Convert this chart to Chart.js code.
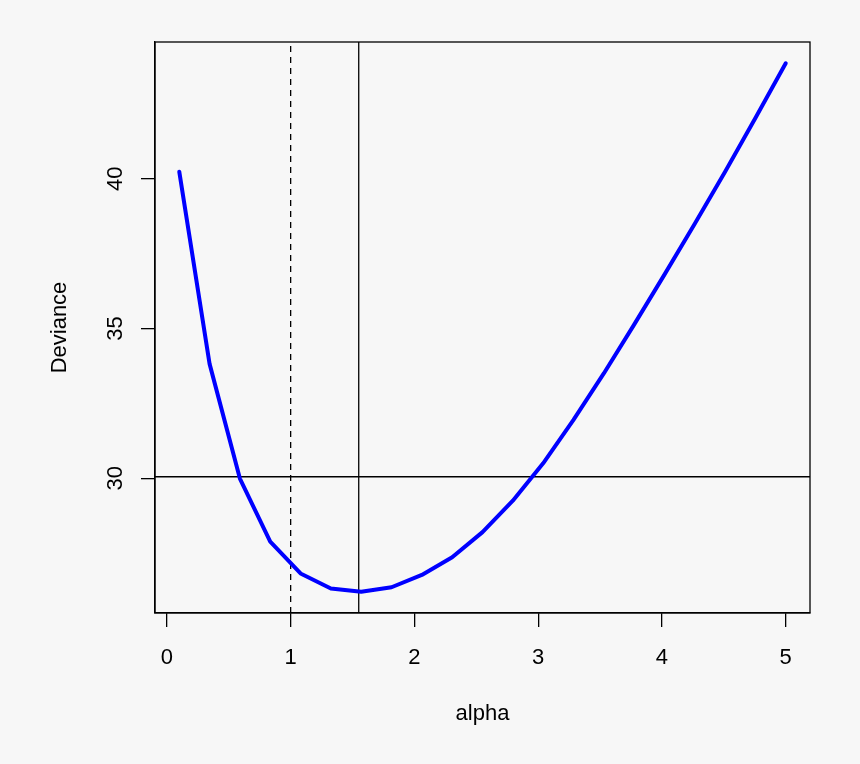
<!DOCTYPE html>
<html lang="en">
<head>
<meta charset="UTF-8">
<title>Deviance vs alpha</title>
<script src="https://cdn.jsdelivr.net/npm/chart.js"></script>
<style>
  html, body { margin: 0; padding: 0; background: #f7f7f7; }
  #wrap { width: 860px; height: 764px; }
</style>
</head>
<body>
<div id="wrap">
  <canvas id="devChart" width="860" height="764"></canvas>
</div>

<script>
// Data
const alpha = [0.1, 0.345, 0.59, 0.835, 1.08, 1.325, 1.57, 1.815, 2.06, 2.305, 2.55,
               2.795, 3.04, 3.285, 3.53, 3.775, 4.02, 4.265, 4.51, 4.755, 5.0];
const deviance = [40.24, 33.82, 29.99, 27.88, 26.82, 26.32, 26.21, 26.36, 26.77, 27.36, 28.2,
                  29.25, 30.5, 31.95, 33.5, 35.13, 36.8, 38.5, 40.24, 42.03, 43.86];

// reference lines (abline)
const hLines = [30.05];
const vSolid = [1.55];
const vDashed = [1];

// axis ticks
const xTicks = [0, 1, 2, 3, 4, 5];
const yTicks = [30, 35, 40];

// R style 4% axis expansion
const xMin = -0.096, xMax = 5.196;
const yMin = 25.50, yMax = 44.57;

const FONT = '"Liberation Sans", Arial, Helvetica, sans-serif';
const FSIZE = 22;

const curve = alpha.map((a, i) => ({ x: a, y: deviance[i] }));

const refSets = [];
hLines.forEach(h => refSets.push({
  data: [{ x: xMin, y: h }, { x: xMax, y: h }],
  borderColor: '#000', borderWidth: 1.3, pointRadius: 0
}));
vSolid.forEach(v => refSets.push({
  data: [{ x: v, y: yMin }, { x: v, y: yMax }],
  borderColor: '#000', borderWidth: 1.3, pointRadius: 0
}));
vDashed.forEach(v => refSets.push({
  data: [{ x: v, y: yMin }, { x: v, y: yMax }],
  borderColor: '#000', borderWidth: 1.3, borderDash: [6, 5], pointRadius: 0
}));

// background, box and rotated y tick labels like base R
const rStyle = {
  id: 'rStyle',
  beforeDraw(chart) {
    const c = chart.ctx;
    c.save();
    c.fillStyle = '#f7f7f7';
    c.fillRect(0, 0, chart.width, chart.height);
    c.restore();
  },
  afterDraw(chart) {
    const c = chart.ctx;
    const a = chart.chartArea;
    const ys = chart.scales.y;
    c.save();
    c.strokeStyle = '#000';
    c.lineWidth = 1.3;
    c.strokeRect(a.left, a.top, a.right - a.left, a.bottom - a.top);
    c.fillStyle = '#000';
    c.font = FSIZE + 'px ' + FONT;
    c.textAlign = 'center';
    c.textBaseline = 'alphabetic';
    ys.ticks.forEach(t => {
      const py = ys.getPixelForValue(t.value);
      c.save();
      c.translate(122, py);
      c.rotate(-Math.PI / 2);
      c.fillText(String(t.value), 0, 0);
      c.restore();
    });
    c.restore();
  }
};

const ctx = document.getElementById('devChart').getContext('2d');
const devChart = new Chart(ctx, {
  type: 'line',
  data: {
    datasets: [{
      data: curve,
      borderColor: '#0000ff',
      borderWidth: 4,
      borderCapStyle: 'round',
      borderJoinStyle: 'round',
      pointRadius: 0,
      tension: 0
    }].concat(refSets)
  },
  options: {
    responsive: false,
    animation: false,
    devicePixelRatio: 1,
    layout: { padding: { top: 42, right: 50, left: 0, bottom: 0 } },
    plugins: { legend: { display: false }, tooltip: { enabled: false } },
    scales: {
      x: {
        type: 'linear',
        min: xMin, max: xMax,
        afterFit(s) { s.height = 151; },
        afterBuildTicks(s) { s.ticks = xTicks.map(v => ({ value: v })); },
        ticks: {
          includeBounds: false,
          color: '#000',
          padding: 18,
          maxRotation: 0,
          font: { family: FONT, size: FSIZE }
        },
        grid: { drawOnChartArea: false, drawTicks: true, tickLength: 14, color: '#000', lineWidth: 1.3 },
        border: { display: true, color: '#000', width: 1.3 },
        title: {
          display: true, text: 'alpha', color: '#000',
          font: { family: FONT, size: FSIZE },
          padding: { top: 0, bottom: 37 }
        }
      },
      y: {
        type: 'linear',
        min: yMin, max: yMax,
        afterFit(s) { s.width = 155; },
        afterBuildTicks(s) { s.ticks = yTicks.map(v => ({ value: v })); },
        ticks: { display: false },
        grid: { drawOnChartArea: false, drawTicks: true, tickLength: 14, color: '#000', lineWidth: 1.3 },
        border: { display: true, color: '#000', width: 1.3 },
        title: {
          display: true, text: 'Deviance', color: '#000',
          font: { family: FONT, size: FSIZE },
          padding: { top: 47, bottom: 0 }
        }
      }
    }
  },
  plugins: [rStyle]
});
</script>
</body>
</html>
